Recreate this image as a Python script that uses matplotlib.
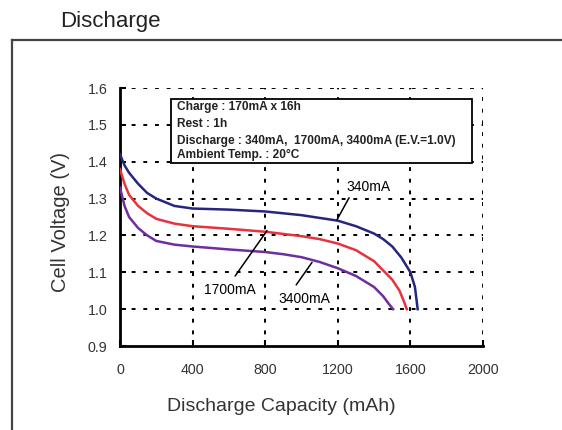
import matplotlib.pyplot as plt
from matplotlib.patches import Rectangle
from matplotlib.lines import Line2D

plt.rcParams['font.family'] = ['Liberation Sans', 'DejaVu Sans']

# кривые разряда (мАч, В)
cap_340 = [0, 25, 50, 100, 150, 200, 300, 400, 600, 800, 1000, 1200, 1300,
           1400, 1450, 1500, 1550, 1600, 1625, 1640]
volt_340 = [1.42, 1.39, 1.37, 1.34, 1.315, 1.30, 1.28, 1.273, 1.27, 1.265,
            1.255, 1.24, 1.225, 1.205, 1.19, 1.17, 1.14, 1.10, 1.06, 1.0]

cap_1700 = [0, 25, 50, 100, 150, 200, 300, 400, 600, 800, 1000, 1100, 1200,
            1300, 1400, 1450, 1500, 1540, 1565, 1580]
volt_1700 = [1.38, 1.34, 1.31, 1.28, 1.26, 1.245, 1.232, 1.225, 1.218, 1.21,
             1.198, 1.19, 1.178, 1.16, 1.13, 1.105, 1.08, 1.05, 1.02, 1.0]

cap_3400 = [0, 25, 50, 100, 150, 200, 300, 400, 600, 800, 900, 1000, 1100,
            1200, 1300, 1400, 1450, 1480, 1505]
volt_3400 = [1.33, 1.28, 1.25, 1.22, 1.20, 1.185, 1.175, 1.17, 1.162, 1.155,
             1.149, 1.141, 1.128, 1.111, 1.09, 1.06, 1.035, 1.015, 1.0]

x_ticks = [0, 400, 800, 1200, 1600, 2000]
y_ticks = [0.9, 1.0, 1.1, 1.2, 1.3, 1.4, 1.5, 1.6]

info_lines = ["Charge : 170mA x 16h",
              "Rest : 1h",
              "Discharge : 340mA,  1700mA, 3400mA (E.V.=1.0V)",
              "Ambient Temp. : 20\u00b0C"]

fig = plt.figure(figsize=(5.62, 4.3), dpi=100)
ax = fig.add_axes([120 / 562, 1 - 346 / 430, 363 / 562, 258 / 430])

# рамка вокруг графика
fig.add_artist(Line2D([12 / 562, 1], [1 - 40 / 430] * 2,
                      color='#444444', lw=1.6, transform=fig.transFigure))
fig.add_artist(Line2D([12 / 562] * 2, [0, 1 - 40 / 430],
                      color='#444444', lw=1.6, transform=fig.transFigure))
fig.text(60 / 562, 1 - 21 / 430, "Discharge", fontsize=16, color='#222222',
         va='center', ha='left')

ax.plot(cap_340, volt_340, color='#26267e', lw=1.8, zorder=3)
ax.plot(cap_1700, volt_1700, color='#e8323c', lw=1.8, zorder=3)
ax.plot(cap_3400, volt_3400, color='#6e2e9e', lw=1.8, zorder=3)

# пунктирная сетка
for xv in x_ticks[1:]:
    ax.axvline(xv, color='black', lw=1.4, ls=(0, (2, 4)), zorder=1)
for yv in y_ticks[1:]:
    ax.axhline(yv, color='black', lw=1.4, ls=(0, (2, 4)), zorder=1)

ax.set_xlim(0, 2000)
ax.set_ylim(0.9, 1.6)
ax.set_xticks(x_ticks)
ax.set_yticks(y_ticks)
ax.set_xticklabels([str(v) for v in x_ticks])
ax.set_yticklabels(["%.1f" % v for v in y_ticks])
ax.tick_params(direction='in', length=4, width=1.5, labelsize=10.3,
               labelcolor='#333333')
ax.tick_params(axis='x', pad=12)
ax.tick_params(axis='y', pad=9)
for s in ['top', 'right']:
    ax.spines[s].set_visible(False)
for s in ['left', 'bottom']:
    ax.spines[s].set_linewidth(2)

ax.set_xlabel("Discharge Capacity (mAh)", fontsize=14, color='#333333')
ax.set_ylabel("Cell Voltage (V)", fontsize=14.5, color='#333333')
ax.xaxis.set_label_coords(0.444, -0.2)
ax.yaxis.set_label_coords(-0.138, 0.48)

# блок с условиями
ax.add_patch(Rectangle((281, 1.397), 1658, 0.173, facecolor='white',
                       edgecolor='black', lw=1.3, zorder=4))
for txt, yv in zip(info_lines, [1.549, 1.503, 1.457, 1.419]):
    ax.text(314, yv, txt, fontsize=8.6, fontweight='bold', va='center',
            ha='left', zorder=5, color='#222222')

ax.annotate("340mA", xy=(1196, 1.243), xytext=(1250, 1.332), fontsize=10,
            ha='left', va='center', zorder=5,
            arrowprops=dict(arrowstyle='-', color='black', lw=1.1,
                            relpos=(0.1, 0.0), shrinkA=1, shrinkB=0))
ax.annotate("1700mA", xy=(810, 1.213), xytext=(606, 1.051), fontsize=10,
            ha='center', va='center', zorder=5,
            arrowprops=dict(arrowstyle='-', color='black', lw=1.1,
                            relpos=(0.5, 1.0), shrinkA=4, shrinkB=0))
ax.annotate("3400mA", xy=(1058, 1.127), xytext=(1014, 1.027), fontsize=10,
            ha='center', va='center', zorder=5,
            arrowprops=dict(arrowstyle='-', color='black', lw=1.1,
                            relpos=(0.25, 1.0), shrinkA=4, shrinkB=0))

fig.savefig("out.png", dpi=100)
